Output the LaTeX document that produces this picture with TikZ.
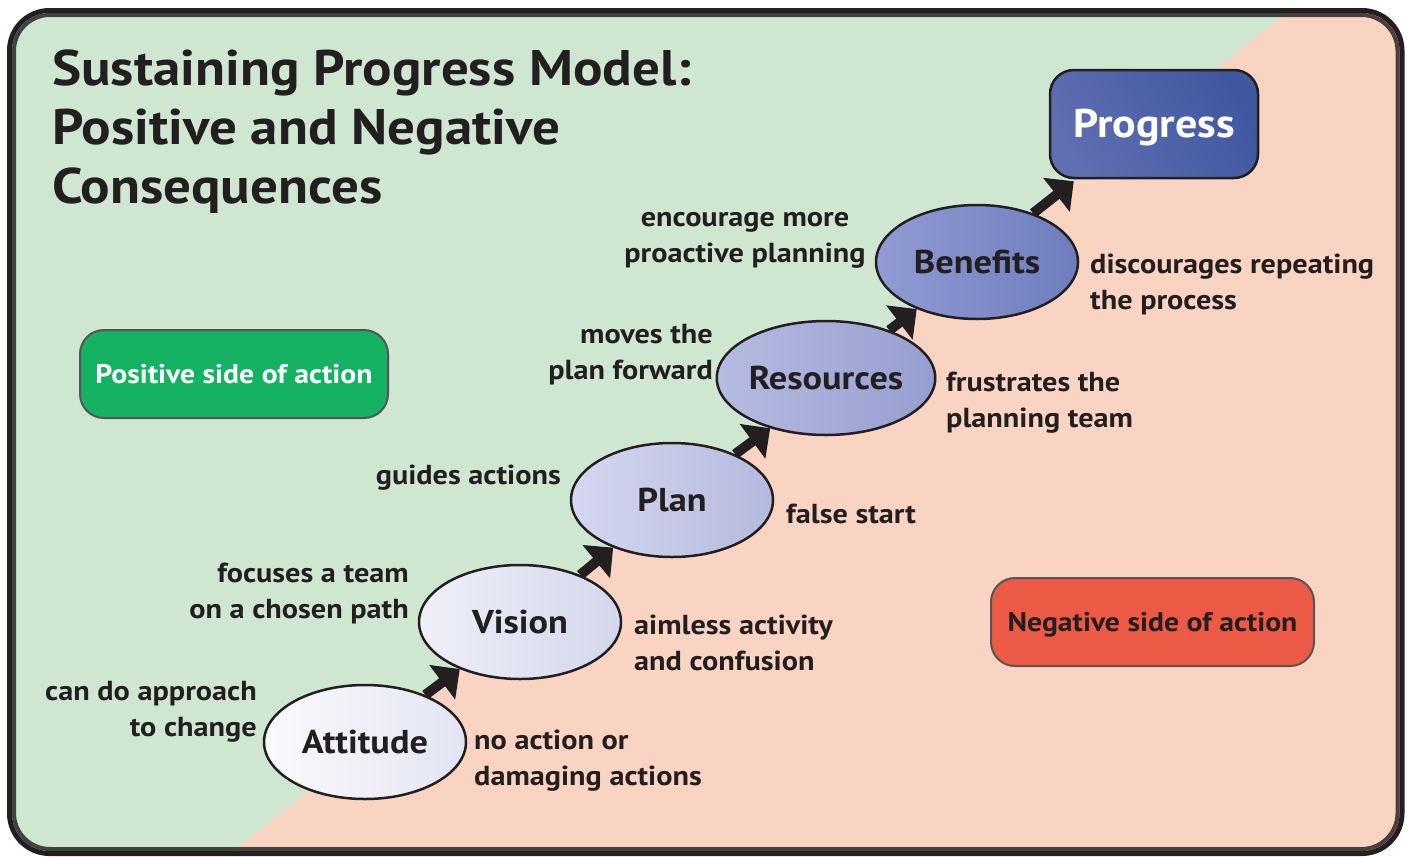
\documentclass[tikz,border=0pt]{standalone}
\usepackage{fontspec}
\setmainfont{PT Sans}[FakeStretch=1.1]
\usetikzlibrary{arrows.meta,shapes.geometric,calc}

\definecolor{ink}{HTML}{231F20}
\definecolor{posbg}{HTML}{CFE6D1}
\definecolor{negbg}{HTML}{FAD4C3}
\definecolor{posbox}{HTML}{15B263}
\definecolor{negbox}{HTML}{EC5944}
\definecolor{boxline}{HTML}{555555}

\tikzset{
  every node/.style={text=ink, font=\bfseries},
  stage/.style={ellipse, draw=ink, line width=2.5pt, minimum width=202pt,
    minimum height=114pt, inner sep=0pt, shading angle=120,
    font=\fontsize{33}{36}\selectfont\bfseries},
  lbl/.style={inner sep=0pt, font=\fontsize{27.5}{36}\selectfont\bfseries},
  lblL/.style={lbl, anchor=east, align=right},
  lblR/.style={lbl, anchor=west, align=left},
  legend/.style={rounded corners=24pt, draw=boxline, line width=2pt,
    minimum width=308pt, minimum height=88pt, inner sep=0pt,
    text height=19pt, text depth=0pt,
    font=\fontsize{27}{30}\selectfont\bfseries},
  stepArrow/.style={draw=ink, line width=10pt,
    -{Triangle[length=22pt,width=42pt]}},
}

\begin{document}
\begin{tikzpicture}[x=1pt,y=-1pt]
\useasboundingbox (0,0) rectangle (1407,857);

% two-tone background clipped to the frame
\begin{scope}
  \clip[rounded corners=40pt] (9.5,10.5) rectangle (1402,853.5);
  \fill[posbg] (0,0) rectangle (1407,857);
  \fill[negbg] (1303,0) -- (1407,0) -- (1407,857) -- (226,857) -- cycle;
\end{scope}
% frame
\draw[black, draw opacity=0.7, line width=4pt, rounded corners=36pt]
  (14,15) rectangle (1397.5,849);
\draw[ink, line width=5pt, rounded corners=40pt] (9.5,10.5) rectangle (1402,853.5);

% title
\node[anchor=north west, inner sep=0pt, align=left,
  font=\fontsize{50}{59}\selectfont\bfseries] (title) at (52,50)
  {Sustaining Progress Model:\\Positive and Negative\\Consequences};

% legend boxes
\node[legend, fill=posbox, text=white] (pos) at (234,374) {Positive side of action};
\node[legend, fill=negbox, minimum width=323pt] (neg) at (1152.5,622) {Negative side of action};

% stages
\node[stage, left color={rgb,255:red,250;green,250;blue,253}, right color={rgb,255:red,226;green,228;blue,242}] (att) at (365,742) {Attitude};
\node[stage, left color={rgb,255:red,238;green,239;blue,248}, right color={rgb,255:red,212;green,215;blue,236}] (vis) at (520,622) {Vision};
\node[stage, left color={rgb,255:red,212;green,215;blue,238}, right color={rgb,255:red,180;green,186;blue,222}] (plan) at (672,500) {Plan};
\node[stage, left color={rgb,255:red,182;green,187;blue,224}, right color={rgb,255:red,150;green,158;blue,208}] (res) at (826,378) {Resources};
\node[stage, left color={rgb,255:red,146;green,155;blue,210}, right color={rgb,255:red,110;green,124;blue,190}] (ben) at (977,262) {Benefits};
\node[rounded corners=24pt, draw=ink, line width=2.5pt, minimum width=208pt,
  minimum height=108pt, inner sep=0pt, text height=27pt, text depth=0pt,
  left color={rgb,255:red,96;green,110;blue,178},
  right color={rgb,255:red,64;green,88;blue,162}, shading angle=120,
  text=white, font=\fontsize{40}{44}\selectfont\bfseries] (prog) at (1154,124) {Progress};

% arrows between stages
\draw[stepArrow] (att.38) -- (vis.218);
\draw[stepArrow] (vis.38) -- (plan.219);
\draw[stepArrow] (plan.36) -- (res.222);
\draw[stepArrow] (res.37) -- (ben.218);
\draw[stepArrow] (ben.41) -- ($(prog.south west)+(25,2)$);

% positive consequences
\node[lblL] (p1) at (257,712) {can do approach\\to change};
\node[lblL] (p2) at (409,594) {focuses a team\\on a chosen path};
\node[lblL] (p3) at (561,478) {guides actions};
\node[lblL] (p4) at (713,355) {moves the\\plan forward};
\node[lbl, align=center] (p5) at (745,240) {encourage more\\proactive planning};

% negative consequences
\node[lblR] (n1) at (474,761) {no action or\\damaging actions};
\node[lblR] (n2) at (634,643) {aimless activity\\and confusion};
\node[lblR] (n3) at (786,514) {false start};
\node[lblR] (n4) at (946,403) {frustrates the\\planning team};
\node[lblR] (n5) at (1090,284) {discourages repeating\\the process};
\end{tikzpicture}
\end{document}
